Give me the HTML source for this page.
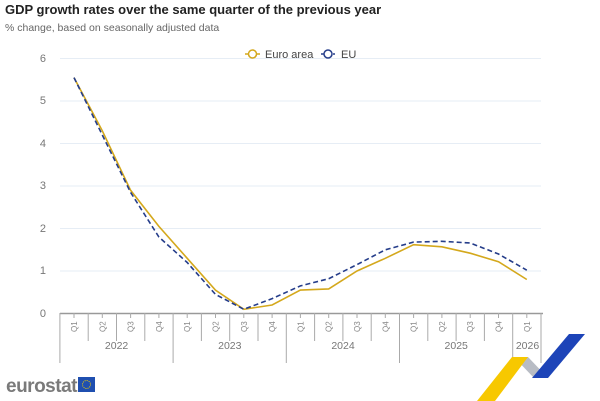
<!DOCTYPE html>
<html><head><meta charset="utf-8"><style>
html,body{margin:0;padding:0;background:#fff;width:600px;height:401px;overflow:hidden}
svg{display:block;font-family:"Liberation Sans",Arial,sans-serif}
</style></head><body>
<svg width="600" height="401" viewBox="0 0 600 401" xmlns="http://www.w3.org/2000/svg">
<text x="5" y="14" font-size="13" font-weight="bold" fill="#222">GDP growth rates over the same quarter of the previous year</text>
<text x="5" y="31" font-size="10.5" fill="#666">% change, based on seasonally adjusted data</text>
<g stroke="#e6edf5" stroke-width="1">
<line x1="60" x2="541" y1="58.5" y2="58.5"/><line x1="60" x2="541" y1="101" y2="101"/>
<line x1="60" x2="541" y1="143.5" y2="143.5"/><line x1="60" x2="541" y1="186" y2="186"/>
<line x1="60" x2="541" y1="228.5" y2="228.5"/><line x1="60" x2="541" y1="271" y2="271"/>
</g>
<g font-size="11" fill="#777" text-anchor="end">
<text x="46" y="62">6</text><text x="46" y="104">5</text><text x="46" y="147">4</text>
<text x="46" y="189">3</text><text x="46" y="232">2</text><text x="46" y="274">1</text><text x="46" y="317">0</text>
</g>
<line x1="60" x2="543" y1="313.5" y2="313.5" stroke="#999" stroke-width="1.5"/>
<g stroke="#aaa" stroke-width="1">
<line x1="74" x2="74" y1="313" y2="318"/><line x1="102.3" x2="102.3" y1="313" y2="318"/><line x1="130.6" x2="130.6" y1="313" y2="318"/><line x1="158.9" x2="158.9" y1="313" y2="318"/><line x1="187.2" x2="187.2" y1="313" y2="318"/><line x1="215.5" x2="215.5" y1="313" y2="318"/><line x1="243.8" x2="243.8" y1="313" y2="318"/><line x1="272.1" x2="272.1" y1="313" y2="318"/><line x1="300.4" x2="300.4" y1="313" y2="318"/><line x1="328.7" x2="328.7" y1="313" y2="318"/><line x1="357" x2="357" y1="313" y2="318"/><line x1="385.3" x2="385.3" y1="313" y2="318"/><line x1="413.6" x2="413.6" y1="313" y2="318"/><line x1="441.9" x2="441.9" y1="313" y2="318"/><line x1="470.2" x2="470.2" y1="313" y2="318"/><line x1="498.5" x2="498.5" y1="313" y2="318"/><line x1="526.8" x2="526.8" y1="313" y2="318"/>
<line x1="88.2" x2="88.2" y1="313" y2="341"/><line x1="116.5" x2="116.5" y1="313" y2="341"/><line x1="144.8" x2="144.8" y1="313" y2="341"/><line x1="201.4" x2="201.4" y1="313" y2="341"/><line x1="229.7" x2="229.7" y1="313" y2="341"/><line x1="258" x2="258" y1="313" y2="341"/><line x1="314.6" x2="314.6" y1="313" y2="341"/><line x1="342.9" x2="342.9" y1="313" y2="341"/><line x1="371.2" x2="371.2" y1="313" y2="341"/><line x1="427.8" x2="427.8" y1="313" y2="341"/><line x1="456.1" x2="456.1" y1="313" y2="341"/><line x1="484.4" x2="484.4" y1="313" y2="341"/>
<line x1="59.9" x2="59.9" y1="313" y2="363"/><line x1="173.1" x2="173.1" y1="313" y2="363"/><line x1="286.3" x2="286.3" y1="313" y2="363"/><line x1="399.5" x2="399.5" y1="313" y2="363"/><line x1="512.7" x2="512.7" y1="313" y2="363"/><line x1="541" x2="541" y1="313" y2="363"/>
</g>
<g font-size="8" fill="#888">
<text transform="translate(77,332) rotate(-90)">Q1</text><text transform="translate(105.3,332) rotate(-90)">Q2</text><text transform="translate(133.6,332) rotate(-90)">Q3</text><text transform="translate(161.9,332) rotate(-90)">Q4</text>
<text transform="translate(190.2,332) rotate(-90)">Q1</text><text transform="translate(218.5,332) rotate(-90)">Q2</text><text transform="translate(246.8,332) rotate(-90)">Q3</text><text transform="translate(275.1,332) rotate(-90)">Q4</text>
<text transform="translate(303.4,332) rotate(-90)">Q1</text><text transform="translate(331.7,332) rotate(-90)">Q2</text><text transform="translate(360,332) rotate(-90)">Q3</text><text transform="translate(388.3,332) rotate(-90)">Q4</text>
<text transform="translate(416.6,332) rotate(-90)">Q1</text><text transform="translate(444.9,332) rotate(-90)">Q2</text><text transform="translate(473.2,332) rotate(-90)">Q3</text><text transform="translate(501.5,332) rotate(-90)">Q4</text>
<text transform="translate(529.8,332) rotate(-90)">Q1</text>
</g>
<g font-size="10.5" fill="#777" text-anchor="middle">
<text x="116.6" y="349">2022</text><text x="229.8" y="349">2023</text><text x="343" y="349">2024</text><text x="456.2" y="349">2025</text><text x="527.5" y="349">2026</text>
</g>
<polyline fill="none" stroke="#d4a81c" stroke-width="1.6" points="74,77.6 102.3,130.8 130.6,190.3 158.9,226.4 187.2,258.3 215.5,290.1 243.8,309.3 272.1,305 300.4,290.1 328.7,288.9 357,271 385.3,258.3 413.6,244.7 441.9,246.8 470.2,253.2 498.5,261.7 526.8,279.5"/>
<polyline fill="none" stroke="#253d8a" stroke-width="1.6" stroke-dasharray="5,3" points="74,77.6 102.3,135 130.6,192.4 158.9,237 187.2,262.5 215.5,294.4 243.8,309.3 272.1,298.6 300.4,285.9 328.7,278.7 357,264.6 385.3,249.8 413.6,242.1 441.9,241.3 470.2,243 498.5,254 526.8,270.2"/>
<g font-size="11" fill="#444">
<line x1="245" x2="260" y1="54" y2="54" stroke="#d4a81c" stroke-width="1.5"/>
<circle cx="252.5" cy="54" r="4" fill="#fff" stroke="#d4a81c" stroke-width="1.5"/>
<text x="265" y="58">Euro area</text>
<line x1="321" x2="335" y1="54" y2="54" stroke="#253d8a" stroke-width="1.5" stroke-dasharray="4,2"/>
<circle cx="328" cy="54" r="4" fill="#fff" stroke="#253d8a" stroke-width="1.5"/>
<text x="341" y="58">EU</text>
</g>
<text x="6" y="392" font-size="19" fill="#7a7a7a" font-weight="bold" letter-spacing="-0.5">eurostat</text>
<rect x="78" y="377" width="17" height="15" fill="#1f4fb0"/>
<circle cx="86.5" cy="384.5" r="4" fill="none" stroke="#f5d000" stroke-width="1" stroke-dasharray="1,1.1"/>
<polygon points="514,357 528,357 548,378 534,378" fill="#b8bcc4"/>
<polygon points="477,401 495,401 528,357 512,357" fill="#f7c800"/>
<polygon points="532,378 548,378 585,334 569,334" fill="#1d44b8"/>
</svg>
</body></html>
